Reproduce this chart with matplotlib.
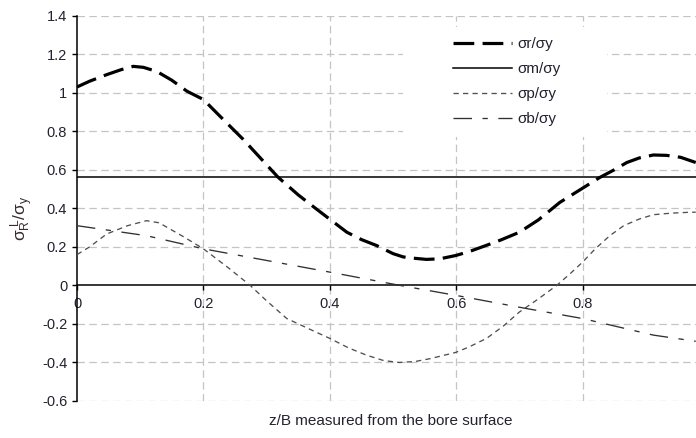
import numpy as np
import matplotlib
matplotlib.use("Agg")
import matplotlib.pyplot as plt
from matplotlib.patches import Rectangle

plt.rcParams['font.family'] = ['Liberation Sans', 'DejaVu Sans']
plt.rcParams['mathtext.fontset'] = 'custom'
plt.rcParams['mathtext.rm'] = 'Liberation Sans'
plt.rcParams['mathtext.it'] = 'Liberation Sans:italic'

# sigma_r / sigma_y  (thick long dash)
r_x = [0.0, 0.02, 0.047, 0.07, 0.089, 0.105, 0.126, 0.15, 0.174, 0.2, 0.226,
       0.263, 0.318, 0.35, 0.379, 0.427, 0.45, 0.474, 0.5, 0.516, 0.53, 0.553,
       0.574, 0.599, 0.62, 0.647, 0.67, 0.70, 0.73, 0.764, 0.785, 0.827, 0.85,
       0.87, 0.89, 0.912, 0.933, 0.955, 0.979]
r_y = [1.03, 1.06, 1.094, 1.12, 1.137, 1.132, 1.111, 1.065, 1.008, 0.965, 0.879,
       0.758, 0.562, 0.47, 0.396, 0.276, 0.238, 0.207, 0.165, 0.148, 0.142, 0.135,
       0.138, 0.155, 0.175, 0.207, 0.235, 0.276, 0.34, 0.431, 0.474, 0.56, 0.60,
       0.638, 0.662, 0.677, 0.675, 0.665, 0.638]

# sigma_m / sigma_y  (solid)
m_x = [0.0, 0.979]
m_y = [0.562, 0.562]

# sigma_p / sigma_y  (short dash)
p_x = [0.0, 0.02, 0.047, 0.08, 0.11, 0.13, 0.147, 0.17, 0.2, 0.24, 0.274, 0.3,
       0.332, 0.37, 0.4, 0.43, 0.458, 0.485, 0.51, 0.535, 0.559, 0.599, 0.62,
       0.648, 0.675, 0.70, 0.73, 0.759, 0.78, 0.80, 0.82, 0.843, 0.865, 0.89,
       0.912, 0.94, 0.965, 0.979]
p_y = [0.16, 0.20, 0.267, 0.31, 0.336, 0.325, 0.293, 0.25, 0.19, 0.09, 0.0, -0.08,
       -0.172, -0.23, -0.275, -0.325, -0.362, -0.39, -0.40, -0.395, -0.38, -0.348, -0.32,
       -0.275, -0.21, -0.138, -0.07, 0.0, 0.06, 0.121, 0.19, 0.258, 0.31, 0.345,
       0.367, 0.375, 0.379, 0.38]

# sigma_b / sigma_y  (long-short dash)
b_x = [0.0, 0.11, 0.2, 0.4, 0.516, 0.6, 0.711, 0.8, 0.912, 0.979]
b_y = [0.31, 0.258, 0.19, 0.069, -0.003, -0.052, -0.12, -0.172, -0.258, -0.29]

labels = ['σr/σy', 'σm/σy', 'σp/σy', 'σb/σy']
x_ticks = [0, 0.2, 0.4, 0.6, 0.8]
x_ticklabels = ['0', '0.2', '0.4', '0.6', '0.8']
y_ticks = [-0.6, -0.4, -0.2, 0, 0.2, 0.4, 0.6, 0.8, 1.0, 1.2, 1.4]
y_ticklabels = ['-0.6', '-0.4', '-0.2', '0', '0.2', '0.4', '0.6', '0.8', '1', '1.2', '1.4']

txt = '#222230'

fig = plt.figure(figsize=(6.96, 4.38), dpi=100)
ax = fig.add_axes([77 / 696, 37 / 438, 619 / 696, 385.3 / 438])

ax.set_xlim(0, 0.9794)
ax.set_ylim(-0.6, 1.4)

# grid
for yv in y_ticks:
    if yv != 0:
        ax.axhline(yv, color='#c4c4c4', lw=0.9, ls=(0, (6, 3.5)), zorder=0)
for xv in x_ticks[1:]:
    ax.axvline(xv, color='#c4c4c4', lw=0.9, ls=(0, (6, 3.5)), zorder=0)

# white box behind legend
ax.add_patch(Rectangle((0.527, 0.685), 0.329, 0.286, transform=ax.transAxes,
                       facecolor='white', edgecolor='none', zorder=1))

ax.plot(r_x, r_y, color='black', lw=2.3, dashes=(6.5, 2.6), label=labels[0], zorder=3)
ax.plot(m_x, m_y, color='black', lw=1.1, label=labels[1], zorder=3)
ax.plot(p_x, p_y, color='#505050', lw=0.95, dashes=(4, 3.2), label=labels[2], zorder=3)
ax.plot(b_x, b_y, color='#303030', lw=0.95, dashes=(14, 8, 4, 8), label=labels[3], zorder=3)

for s in ['top', 'right']:
    ax.spines[s].set_visible(False)
ax.spines['bottom'].set_position(('data', 0))
ax.spines['bottom'].set_linewidth(1.1)
ax.spines['left'].set_linewidth(1.1)

ax.set_xticks(x_ticks)
ax.set_xticklabels(x_ticklabels)
ax.set_yticks(y_ticks)
ax.set_yticklabels(y_ticklabels)
ax.tick_params(axis='both', direction='out', length=3.6, width=1.0,
               labelsize=10.5, labelcolor=txt)
ax.tick_params(axis='x', pad=5)
ax.tick_params(axis='y', pad=3.5)

ax.set_xlabel('z/B measured from the bore surface', fontsize=11, color=txt)
ax.xaxis.set_label_coords(0.507, -0.034)
ax.set_ylabel(r'$\mathregular{σ_R^{\ L}/σ_y}$', fontsize=12.5, color='#3a2a30')
ax.yaxis.set_label_coords(-0.068, 0.475)

ax.legend(loc='upper left', bbox_to_anchor=(0.607, 0.945), frameon=False,
          fontsize=11, handlelength=3.9, handletextpad=0.35,
          labelspacing=0.72, borderpad=0, borderaxespad=0, labelcolor=txt)

fig.savefig('out.png', dpi=100)
